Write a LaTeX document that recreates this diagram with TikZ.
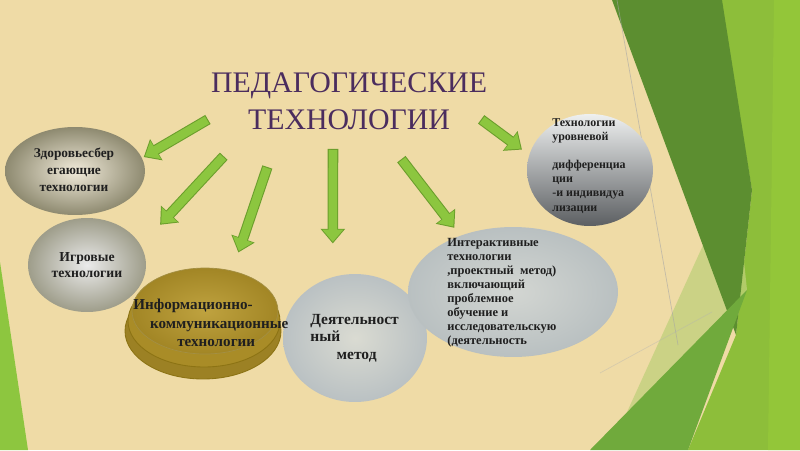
\documentclass[tikz,border=0pt]{standalone}
\usepackage{fontspec}
\setmainfont{Liberation Serif}
\usetikzlibrary{shapes.geometric,arrows.meta}
\definecolor{parch}{HTML}{EFDBA6}
\definecolor{leafgreen}{HTML}{8DC63F}
\definecolor{facetdark}{HTML}{5C8E30}
\definecolor{facetmid}{HTML}{8DBE3A}
\definecolor{facetlow}{HTML}{70AA3C}
\definecolor{facetpale}{HTML}{BFD07A}
\definecolor{arrowgreen}{HTML}{8CC63F}
\definecolor{arrowedge}{HTML}{6B9E2C}
\definecolor{titlepurple}{HTML}{4B2D5E}
\definecolor{gold}{HTML}{B8982A}
\definecolor{golddark}{HTML}{8C7314}
\tikzset{
  bubble/.style={ellipse, inner sep=0pt},
  txt/.style 2 args={inner sep=0pt, text=black!88, font=\bfseries\fontsize{#1}{#2}\selectfont},
  blockarrow/.style={arrowgreen, line width=4.8pt, line cap=butt, -{Triangle[length=7pt,width=11.5pt]}, shorten >=#1+0.9pt,
    preaction={draw=arrowedge, line width=6pt, -{Triangle[length=8.3pt,width=13.5pt]}, shorten >=#1, shorten <=-0.6pt}}
}
\begin{document}
\begin{tikzpicture}[x=0.02cm,y=-0.02cm]
% background
\fill[parch] (0,0) rectangle (800,450);
\useasboundingbox (0,0) rectangle (800,450);
\fill[leafgreen] (0,262) -- (28,450) -- (0,450) -- cycle;
\fill[facetmid] (720,0) -- (800,0) -- (800,450) -- (688,450) -- (736,335) -- (752,190) -- cycle;
\fill[leafgreen!90!yellow, opacity=.6] (774,0) -- (800,0) -- (800,450) -- (768,450) -- cycle;
\fill[facetpale, opacity=.75] (735,175) -- (612,445) -- (747,290) -- cycle;
\fill[facetdark] (612,0) -- (722,0) -- (752,190) -- (736,335) -- cycle;
\fill[facetlow] (590,450) -- (747,290) -- (688,450) -- cycle;
\draw[black!35, line width=.4pt, opacity=.6] (617,0) -- (678,345);
\draw[white!70!black, line width=.4pt, opacity=.4] (600,373) -- (712,312);
% bubbles
\node[bubble, minimum width=2.8cm, minimum height=1.76cm, inner color=black!10!parch!35!white, outer color={rgb,255:red,142;green,138;blue,112}, shade] (zdor) at (75,171) {};
\node[bubble, minimum width=2.36cm, minimum height=1.88cm, inner color=white!92!black, outer color={rgb,255:red,158;green,157;blue,138}, shade] (igr) at (87,265) {};
\node[bubble, minimum width=3.12cm, minimum height=1.92cm, fill=gold!85!black, draw=golddark, line width=.5pt] (ikt-3) at (203,331) {};
\node[bubble, minimum width=3.04cm, minimum height=1.84cm, fill=gold!92!black, draw=golddark, line width=.5pt] (ikt-2) at (204,321) {};
\node[bubble, minimum width=2.92cm, minimum height=1.72cm, inner color=gold!90!white, outer color=gold!88!black, shade, draw=golddark!80, line width=.4pt] (ikt) at (205,311) {};
\node[bubble, minimum width=2.88cm, minimum height=2.56cm, inner color={rgb,255:red,218;green,219;blue,210}, outer color={rgb,255:red,186;green,193;blue,195}, shade] (deyat) at (355,338) {};
\node[bubble, minimum width=4.2cm, minimum height=2.6cm, inner color={rgb,255:red,211;green,214;blue,210}, outer color={rgb,255:red,185;green,192;blue,193}, shade] (inter) at (513,292) {};
\node[bubble, minimum width=2.52cm, minimum height=2.24cm, top color={rgb,255:red,238;green,240;blue,240}, bottom color={rgb,255:red,92;green,95;blue,98}, shade] (urov) at (590,170) {};
% title
\node[font=\fontsize{17}{21}\selectfont, text=titlepurple, align=center] (title) at (349,101) {ПЕДАГОГИЧЕСКИЕ\\ТЕХНОЛОГИИ};
% arrows
\coordinate (ta) at (207,120);
\coordinate (tb) at (223,157);
\coordinate (tc) at (267,168);
\coordinate (td) at (333,150);
\coordinate (te) at (402,160);
\coordinate (tf) at (482,120);
\foreach \from/\to/\gap in {ta/zdor.11/1pt, tb/igr.20/16pt, tc/ikt.56/11pt, td/deyat.110/19pt, te/inter.133/5.5pt, tf/urov.166/5pt}
  \draw[blockarrow=\gap] (\from) -- (\to);
% texts
\node[txt={7.6}{9.6}, align=center] (zdor-t) at (74,170) {Здоровьесбер\\егающие\\технологии};
\node[txt={7.8}{9}, align=center] (igr-t) at (87,265) {Игровые\\технологии};
\node[txt={8.6}{10.4}, align=left, anchor=west] (ikt-t) at (133,323) {Информационно-\\\hspace*{9.5pt}коммуникационные\\\hspace*{25pt}технологии};
\node[txt={8.8}{10}, align=left, anchor=west] (deyat-t) at (310,338) {Деятельност\\ный\\\hspace*{15pt}метод};
\node[txt={7.1}{8}, align=left, anchor=west] (inter-t) at (447,293) {Интерактивные\\технологии\\,проектный\ \ метод)\\включающий\\проблемное\\обучение и\\исследовательскую\\(деятельность};
\node[txt={6.8}{8}, align=left, anchor=west] (urov-t) at (552,166) {Технологии\\уровневой\\[8pt]дифференциа\\ции\\-и индивидуа\\лизации};
\end{tikzpicture}
\end{document}
